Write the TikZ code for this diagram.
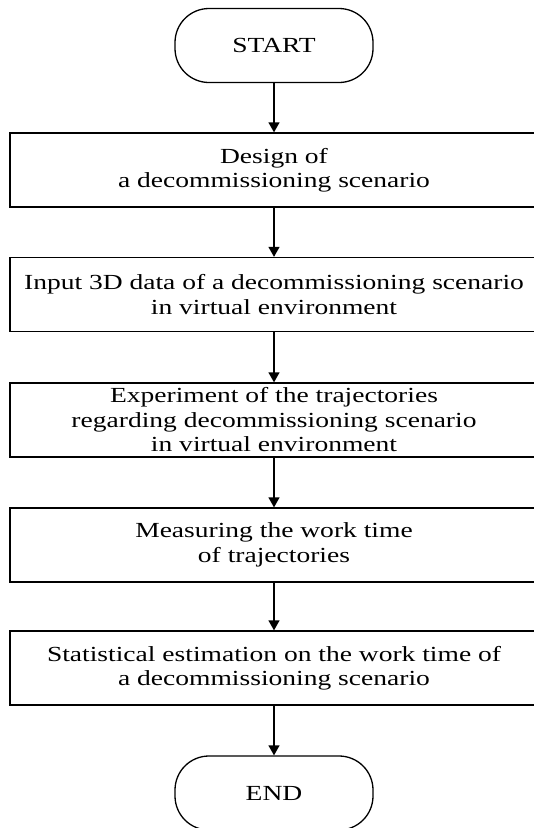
\documentclass[tikz,border=0pt]{standalone}
\usepackage{fontspec}
\setmainfont{Liberation Serif}[FakeStretch=1.28]
\usepackage{tikz}
\usetikzlibrary{arrows.meta, positioning}
\newcommand{\flowstep}[2]
{
	\draw[-{Triangle[length=10pt, width=11pt]}] (#1.south) -- (#2.north)
}

\begin{document}
\begin{tikzpicture}[x=1pt, y=-1pt, line width=1.3pt, every node/.append style={shape=rectangle, align=center, draw=black, minimum width=528pt, minimum height=74pt, font=\fontsize{21.5}{24.5}\selectfont}]
	\useasboundingbox (0,0) rectangle (534,828);
	\clip (0,0) rectangle (534,828);
	\node[minimum width=198pt, rounded corners=34pt] at (274, 45.5) (start){START};
	\node at (274, 170) (s1){Design of\\ a decommissioning scenario};
	\node at (274, 294.5) (s2){Input 3D data of a decommissioning scenario\\ in virtual environment};
	\node at (274, 420) (s3){Experiment of the trajectories\\ regarding decommissioning scenario\\ in virtual environment};
	\node at (274, 545) (s4){Measuring the work time\\ of trajectories};
	\node at (274, 668) (s5){Statistical estimation on the work time of\\ a decommissioning scenario};
	\node[minimum width=198pt, rounded corners=34pt] at (274, 793) (stop){END};
		\foreach \a/\b in {start/s1, s1/s2, s2/s3, s3/s4, s4/s5, s5/stop}
			\flowstep{\a}{\b};
\end{tikzpicture}
\end{document}
